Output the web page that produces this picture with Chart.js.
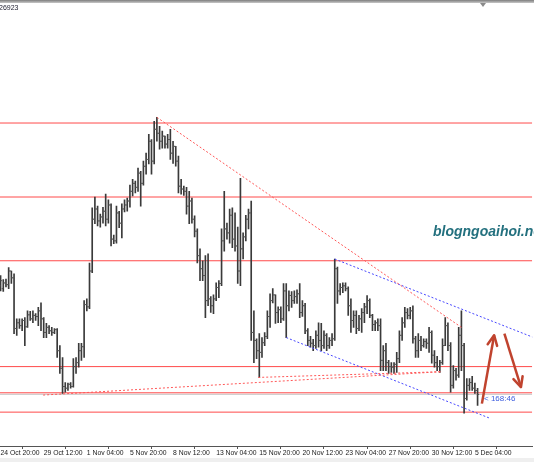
<!DOCTYPE html>
<html>
<head>
<meta charset="utf-8">
<script src="https://cdn.jsdelivr.net/npm/chart.js@4.4.1/dist/chart.umd.min.js"></script>
<style>
  html, body { margin: 0; padding: 0; background: #fff; overflow: hidden; }
  body { width: 534px; height: 462px; position: relative; }
  #wrap { position: absolute; left: -20px; top: 0; width: 554px; height: 462px; }
  #topbar { position: absolute; left: 0; top: 0; width: 534px; height: 3px; background: linear-gradient(#7d7d7d, #c8c8c8); }
  #shift { position: absolute; left: 480px; top: 3px; width: 0; height: 0;
           border-left: 3px solid transparent; border-right: 3px solid transparent; border-top: 4px solid #8a8a8a; }
  #info { position: absolute; left: -1px; top: 4px; font: 7px 'Liberation Sans', sans-serif; color: #223; }
  #mark { position: absolute; left: 433px; top: 224px; font: italic bold 14px/14px 'Liberation Sans', sans-serif;
          color: #23707e; white-space: nowrap; }
  #timer { position: absolute; left: 484px; top: 395px; font: 8px/8px 'Liberation Sans', sans-serif;
           color: #4060e0; white-space: nowrap; }
  #foot { position: absolute; left: 0; top: 458px; width: 534px; height: 4px; background: #efefef; }
</style>
</head>
<body>
<div id="wrap"><canvas id="chart" width="554" height="462"></canvas></div>
<div id="topbar"></div>
<div id="shift"></div>
<div id="info">26923</div>
<div id="mark">blogngoaihoi.net</div>
<div id="timer">&lt; 168:46</div>
<div id="foot"></div>
<script>
// GBPUSD H4, bar 0 = 24 Oct 20:00
const tickIdx = [0, 16, 32, 48, 64, 80, 96, 112, 128, 144, 160, 176];
const tickText = ['24 Oct 20:00', '29 Oct 12:00', '1 Nov 04:00', '5 Nov 20:00', '8 Nov 12:00', '13 Nov 04:00',
                  '15 Nov 20:00', '20 Nov 12:00', '23 Nov 04:00', '27 Nov 20:00', '30 Nov 12:00', '5 Dec 04:00'];

const highs = [
  1.2901, 1.2894, 1.2895, 1.2915, 1.2909, 1.2904, 1.2825, 1.2825, 1.2825, 1.2827,
  1.2839, 1.2838, 1.2839, 1.2834, 1.2845, 1.2853, 1.2827, 1.2817, 1.2813, 1.2810,
  1.2808, 1.2808, 1.2778, 1.2757, 1.2713, 1.2712, 1.2713, 1.2755, 1.2757, 1.2782,
  1.2782, 1.2857, 1.2860, 1.2923, 1.3020, 1.3039, 1.3023, 1.3009, 1.3021, 1.3044,
  1.3034, 1.3027, 1.2972, 1.3023, 1.3014, 1.3027, 1.3034, 1.3037, 1.3060, 1.3070,
  1.3067, 1.3090, 1.3084, 1.3102, 1.3116, 1.3149, 1.3140, 1.3172, 1.3179, 1.3163,
  1.3155, 1.3146, 1.3149, 1.3158, 1.3137, 1.3128, 1.3111, 1.3070, 1.3058, 1.3056,
  1.3049, 1.3037, 1.3006, 1.2983, 1.2948, 1.2927, 1.2936, 1.2939, 1.2864, 1.2867,
  1.2888, 1.2892, 1.2983, 1.3049, 1.2993, 1.3018, 1.3020, 1.3011, 1.2986, 1.3072,
  1.2976, 1.3007, 1.3018, 1.3032, 1.2839, 1.2790, 1.2799, 1.2792, 1.2801, 1.2839,
  1.2869, 1.2878, 1.2867, 1.2846, 1.2846, 1.2887, 1.2887, 1.2874, 1.2873, 1.2874,
  1.2876, 1.2887, 1.2857, 1.2852, 1.2808, 1.2794, 1.2789, 1.2804, 1.2818, 1.2817,
  1.2804, 1.2799, 1.2792, 1.2799, 1.2930, 1.2916, 1.2887, 1.2888, 1.2888, 1.2881,
  1.2860, 1.2839, 1.2839, 1.2831, 1.2843, 1.2852, 1.2866, 1.2860, 1.2833, 1.2822,
  1.2825, 1.2825, 1.2778, 1.2782, 1.2752, 1.2748, 1.2748, 1.2766, 1.2804, 1.2827,
  1.2845, 1.2843, 1.2845, 1.2848, 1.2794, 1.2799, 1.2794, 1.2790, 1.2790, 1.2810,
  1.2804, 1.2769, 1.2759, 1.2752, 1.2790, 1.2827, 1.2818, 1.2783, 1.2743, 1.2738,
  1.2810, 1.2839, 1.2782, 1.2720, 1.2720, 1.2724, 1.2712, 1.2703
];
const lows = [
  1.2874, 1.2873, 1.2881, 1.2878, 1.2887, 1.2799, 1.2796, 1.2808, 1.2804, 1.2778,
  1.2810, 1.2822, 1.2818, 1.2822, 1.2813, 1.2804, 1.2792, 1.2792, 1.2799, 1.2796,
  1.2799, 1.2757, 1.2729, 1.2694, 1.2696, 1.2699, 1.2703, 1.2705, 1.2729, 1.2740,
  1.2752, 1.2757, 1.2839, 1.2843, 1.2906, 1.2992, 1.2988, 1.2986, 1.2993, 1.2988,
  1.2993, 1.2953, 1.2957, 1.2958, 1.2985, 1.2967, 1.3013, 1.3014, 1.3021, 1.3041,
  1.3046, 1.3049, 1.3023, 1.3060, 1.3079, 1.3097, 1.3079, 1.3097, 1.3137, 1.3123,
  1.3125, 1.3125, 1.3125, 1.3105, 1.3098, 1.3093, 1.3046, 1.3044, 1.3042, 1.3009,
  1.2992, 1.2993, 1.2969, 1.2923, 1.2892, 1.2892, 1.2827, 1.2848, 1.2836, 1.2834,
  1.2857, 1.2862, 1.2883, 1.2944, 1.2965, 1.2958, 1.2950, 1.2944, 1.2887, 1.2883,
  1.2930, 1.2962, 1.2983, 1.2787, 1.2748, 1.2755, 1.2722, 1.2757, 1.2778, 1.2790,
  1.2810, 1.2853, 1.2817, 1.2818, 1.2818, 1.2822, 1.2792, 1.2839, 1.2845, 1.2852,
  1.2852, 1.2827, 1.2829, 1.2799, 1.2778, 1.2775, 1.2769, 1.2773, 1.2775, 1.2769,
  1.2773, 1.2769, 1.2773, 1.2778, 1.2787, 1.2852, 1.2867, 1.2871, 1.2874, 1.2831,
  1.2801, 1.2810, 1.2799, 1.2804, 1.2801, 1.2818, 1.2834, 1.2827, 1.2804, 1.2804,
  1.2804, 1.2734, 1.2734, 1.2734, 1.2729, 1.2731, 1.2729, 1.2731, 1.2748, 1.2787,
  1.2810, 1.2825, 1.2825, 1.2782, 1.2757, 1.2757, 1.2769, 1.2775, 1.2773, 1.2766,
  1.2747, 1.2740, 1.2734, 1.2731, 1.2745, 1.2778, 1.2769, 1.2696, 1.2703, 1.2717,
  1.2722, 1.2734, 1.2659, 1.2682, 1.2699, 1.2699, 1.2694, 1.2673
];
const opens = [
  1.2883, 1.2878, 1.2888, 1.2885, 1.2909, 1.2897, 1.2808, 1.2818, 1.2813, 1.2822,
  1.2811, 1.2832, 1.2825, 1.2831, 1.2829, 1.2839, 1.2825, 1.2801, 1.2810, 1.2804,
  1.2801, 1.2806, 1.2769, 1.2738, 1.2706, 1.2703, 1.2710, 1.2706, 1.2741, 1.2748,
  1.2769, 1.2776, 1.2850, 1.2846, 1.2909, 1.3000, 1.3018, 1.2997, 1.3004, 1.3014,
  1.3000, 1.3025, 1.2965, 1.2962, 1.3011, 1.2993, 1.3018, 1.3025, 1.3032, 1.3049,
  1.3063, 1.3056, 1.3081, 1.3063, 1.3093, 1.3105, 1.3137, 1.3102, 1.3158, 1.3151,
  1.3137, 1.3146, 1.3132, 1.3140, 1.3116, 1.3128, 1.3102, 1.3058, 1.3053, 1.3049,
  1.3023, 1.3032, 1.3000, 1.2979, 1.2936, 1.2913, 1.2901, 1.2857, 1.2860, 1.2848,
  1.2860, 1.2880, 1.2887, 1.2962, 1.2983, 1.2976, 1.3007, 1.2965, 1.2953, 1.2909,
  1.2948, 1.2969, 1.3000, 1.3011, 1.2801, 1.2787, 1.2769, 1.2766, 1.2783, 1.2794,
  1.2829, 1.2857, 1.2867, 1.2836, 1.2841, 1.2825, 1.2874, 1.2848, 1.2866, 1.2857,
  1.2864, 1.2869, 1.2836, 1.2848, 1.2804, 1.2787, 1.2782, 1.2778, 1.2796, 1.2787,
  1.2778, 1.2796, 1.2778, 1.2787, 1.2790, 1.2913, 1.2874, 1.2880, 1.2883, 1.2878,
  1.2848, 1.2822, 1.2831, 1.2808, 1.2825, 1.2836, 1.2846, 1.2857, 1.2831, 1.2815,
  1.2818, 1.2813, 1.2752, 1.2769, 1.2748, 1.2741, 1.2740, 1.2745, 1.2755, 1.2796,
  1.2818, 1.2836, 1.2831, 1.2839, 1.2790, 1.2769, 1.2787, 1.2778, 1.2785, 1.2782,
  1.2801, 1.2761, 1.2748, 1.2741, 1.2748, 1.2778, 1.2813, 1.2778, 1.2708, 1.2734,
  1.2726, 1.2796, 1.2778, 1.2685, 1.2708, 1.2713, 1.2703, 1.2699
];
const closes = [
  1.2892, 1.2888, 1.2885, 1.2909, 1.2897, 1.2808, 1.2818, 1.2813, 1.2822, 1.2811,
  1.2832, 1.2825, 1.2831, 1.2829, 1.2839, 1.2825, 1.2801, 1.2810, 1.2804, 1.2801,
  1.2806, 1.2769, 1.2738, 1.2706, 1.2703, 1.2710, 1.2706, 1.2741, 1.2748, 1.2769,
  1.2776, 1.2850, 1.2846, 1.2909, 1.3000, 1.3018, 1.2997, 1.3004, 1.3014, 1.3000,
  1.3025, 1.2965, 1.2962, 1.3011, 1.2993, 1.3018, 1.3025, 1.3032, 1.3049, 1.3063,
  1.3056, 1.3081, 1.3063, 1.3093, 1.3105, 1.3137, 1.3102, 1.3158, 1.3151, 1.3137,
  1.3146, 1.3132, 1.3140, 1.3116, 1.3128, 1.3102, 1.3058, 1.3053, 1.3049, 1.3023,
  1.3032, 1.3000, 1.2979, 1.2936, 1.2913, 1.2901, 1.2857, 1.2860, 1.2848, 1.2860,
  1.2880, 1.2887, 1.2962, 1.2983, 1.2976, 1.3007, 1.2965, 1.2953, 1.2909, 1.2948,
  1.2969, 1.3000, 1.3011, 1.2801, 1.2787, 1.2769, 1.2766, 1.2783, 1.2794, 1.2829,
  1.2857, 1.2867, 1.2836, 1.2841, 1.2825, 1.2874, 1.2848, 1.2866, 1.2857, 1.2864,
  1.2869, 1.2836, 1.2848, 1.2804, 1.2787, 1.2782, 1.2778, 1.2796, 1.2787, 1.2778,
  1.2796, 1.2778, 1.2787, 1.2790, 1.2913, 1.2874, 1.2880, 1.2883, 1.2878, 1.2848,
  1.2822, 1.2831, 1.2808, 1.2825, 1.2836, 1.2846, 1.2857, 1.2831, 1.2815, 1.2818,
  1.2813, 1.2752, 1.2769, 1.2748, 1.2741, 1.2740, 1.2745, 1.2755, 1.2796, 1.2818,
  1.2836, 1.2831, 1.2839, 1.2790, 1.2769, 1.2787, 1.2778, 1.2785, 1.2782, 1.2801,
  1.2761, 1.2748, 1.2741, 1.2748, 1.2778, 1.2813, 1.2778, 1.2708, 1.2734, 1.2726,
  1.2796, 1.2778, 1.2685, 1.2708, 1.2713, 1.2703, 1.2699, 1.2692
];

// horizontal levels and current bid
const levels = [1.3169, 1.3039, 1.2927, 1.2741, 1.2695, 1.2661];
const bid = 1.26923;

// hand-drawn objects: [bar index, price] pairs
const trendPeak = [[58, 1.3179], [171, 1.2810]];
const supportA = [[15.8, 1.2691], [163.4, 1.2732]];
const supportB = [[95.6, 1.2722], [163.4, 1.2732]];
const channelTop = [[124, 1.2930], [200, 1.2788]];
const channelBottom = [[106, 1.2792], [181.7, 1.2650]];
const arrowUp = [[178.6, 1.2676], [183.15, 1.2796]];
const arrowDown = [[186.95, 1.2799], [193.1, 1.2705]];

const X_MIN = -6.968, X_MAX = 197.27;

const pts = arr => arr.map(p => ({ x: p[0], y: p[1] }));

function segment(arr, color, dash, width, order) {
  return {
    type: 'line', data: pts(arr), borderColor: color, borderWidth: width,
    borderDash: dash, pointRadius: 0, fill: false, tension: 0, order: order
  };
}

const arrowHeads = {
  id: 'arrowHeads',
  afterDatasetsDraw(chart) {
    const ctx = chart.ctx;
    chart.data.datasets.forEach((ds, k) => {
      if (!ds.arrow) return;
      const el = chart.getDatasetMeta(k).data;
      const a = el[el.length - 2], b = el[el.length - 1];
      const ang = Math.atan2(b.y - a.y, b.x - a.x);
      ctx.save();
      ctx.strokeStyle = ds.borderColor;
      ctx.lineWidth = ds.borderWidth;
      ctx.lineCap = 'round';
      ctx.beginPath();
      [-0.45, 0.45].forEach(d => {
        ctx.moveTo(b.x, b.y);
        ctx.lineTo(b.x - 11 * Math.cos(ang + d), b.y - 11 * Math.sin(ang + d));
      });
      ctx.stroke();
      ctx.restore();
    });
  }
};

const barColor = '#3a3a3a';

const datasets = [
  {
    type: 'bar',
    data: highs.map((h, i) => ({ x: i, y: [lows[i], h] })),
    backgroundColor: barColor,
    barThickness: 1,
    order: 3
  },
  {
    type: 'scatter',
    data: opens.map((o, i) => ({ x: i - 0.3, y: o })),
    pointStyle: 'line', pointRadius: 0.8, pointBorderWidth: 1,
    pointBorderColor: '#555', pointHoverRadius: 0, order: 2
  },
  {
    type: 'scatter',
    data: closes.map((c, i) => ({ x: i + 0.3, y: c })),
    pointStyle: 'line', pointRadius: 0.8, pointBorderWidth: 1,
    pointBorderColor: '#555', pointHoverRadius: 0, order: 2
  }
];

levels.forEach(v => {
  datasets.push(segment([[X_MIN, v], [X_MAX, v]], '#ff4a4a', [], 1, 6));
});
datasets.push(segment([[X_MIN, bid], [X_MAX, bid]], '#c6c6c6', [], 1, 7));

datasets.push(segment(trendPeak, '#ff5858', [2, 2], 1, 1));
datasets.push(segment(supportA, '#ff5858', [2, 2], 1, 1));
datasets.push(segment(supportB, '#ff5858', [2, 2], 1, 1));
datasets.push(segment(channelTop, '#4848ff', [2, 2], 1, 1));
datasets.push(segment(channelBottom, '#4848ff', [2, 2], 1, 1));

const up = segment(arrowUp, '#c0432e', [], 2.5, 0);
up.arrow = true;
const down = segment(arrowDown, '#c0432e', [], 2.5, 0);
down.arrow = true;
datasets.push(up, down);

new Chart(document.getElementById('chart'), {
  type: 'bar',
  data: { datasets: datasets },
  options: {
    responsive: false,
    maintainAspectRatio: false,
    devicePixelRatio: 1,
    animation: false,
    events: [],
    layout: { padding: 0 },
    plugins: {
      legend: { display: false },
      tooltip: { enabled: false }
    },
    scales: {
      x: {
        type: 'linear',
        min: X_MIN,
        max: X_MAX,
        offset: false,
        grid: { drawOnChartArea: false, drawTicks: true, tickLength: 3, color: '#555' },
        border: { display: true, color: '#555', width: 1 },
        ticks: {
          autoSkip: false,
          maxRotation: 0,
          minRotation: 0,
          align: 'start',
          padding: 0,
          color: '#1a1a1a',
          font: { family: "'Liberation Sans', Arial, sans-serif", size: 6.8 },
          callback: function(v) {
            const k = tickIdx.indexOf(v);
            return k < 0 ? '' : tickText[k];
          }
        },
        afterBuildTicks: function(scale) {
          scale.ticks = tickIdx.map(v => ({ value: v }));
        },
        afterFit: function(scale) {
          scale.height = 16;
        }
      },
      y: {
        type: 'linear',
        display: false,
        min: 1.26015,
        max: 1.3382
      }
    }
  },
  plugins: [arrowHeads]
});
</script>
</body>
</html>
